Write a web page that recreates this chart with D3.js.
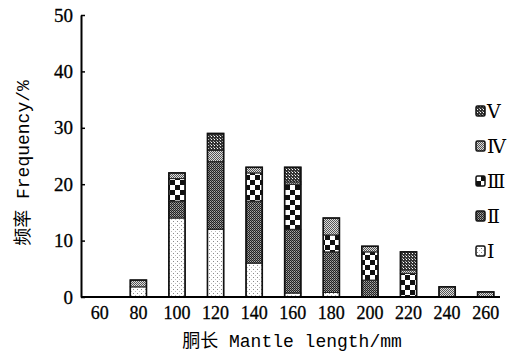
<!DOCTYPE html>
<html>
<head>
<meta charset="utf-8">
<script src="https://cdn.jsdelivr.net/npm/d3@7"></script>
<style>
  body { margin: 0; background: #fff; }
</style>
</head>
<body>
<div id="chart"></div>
<script>
// mantle length classes (mm)
const categories = ["60", "80", "100", "120", "140", "160", "180", "200", "220", "240", "260"];
// frequency (%) per maturity stage
const stageI   = [0, 1.8, 14, 12, 6, 0.7, 0.8, 0, 0, 0, 0];
const stageII  = [0, 0, 3, 12, 11, 11.3, 7.2, 3, 0, 0, 0];
const stageIII = [0, 0, 4, 0, 5, 8, 3, 5, 4.2, 0, 0];
const stageIV  = [0, 1.2, 1, 2, 1, 0.4, 3, 1, 0.6, 1.8, 0.9];
const stageV   = [0, 0, 0, 3, 0, 2.6, 0, 0, 3.2, 0, 0];
const stageNames = ["Ⅰ", "Ⅱ", "Ⅲ", "Ⅳ", "Ⅴ"];
const yTicks = [0, 10, 20, 30, 40, 50];

const width = 508, height = 358;

const svg = d3.select("#chart")
    .append("svg")
    .attr("width", width)
    .attr("height", height);

// fill patterns, one per stage
const defs = svg.append("defs");

function addPattern(id, size, bg, draw) {
    const p = defs.append("pattern")
        .attr("id", id)
        .attr("patternUnits", "userSpaceOnUse")
        .attr("width", size)
        .attr("height", size);
    p.append("rect").attr("width", size).attr("height", size).attr("fill", bg);
    draw(p);
}

// I: sparse dots
addPattern("pI", 4, "#fff", p => {
    p.append("rect").attr("x", 1).attr("y", 1).attr("width", 1).attr("height", 1).attr("fill", "#888");
    p.append("rect").attr("x", 3).attr("y", 3).attr("width", 1).attr("height", 1).attr("fill", "#bbb");
});
// II: dense dark checker
addPattern("pII", 2, "#aaa", p => {
    p.append("rect").attr("x", 0).attr("y", 0).attr("width", 1).attr("height", 1).attr("fill", "#222");
    p.append("rect").attr("x", 1).attr("y", 1).attr("width", 1).attr("height", 1).attr("fill", "#222");
    p.append("rect").attr("x", 1).attr("y", 0).attr("width", 1).attr("height", 1).attr("fill", "#777");
});
// III: big checkerboard
addPattern("pIII", 10, "#fff", p => {
    p.append("rect").attr("x", 0).attr("y", 0).attr("width", 5).attr("height", 5).attr("fill", "#111");
    p.append("rect").attr("x", 5).attr("y", 5).attr("width", 5).attr("height", 5).attr("fill", "#111");
});
// IV: lighter fine checker
addPattern("pIV", 2, "#ddd", p => {
    p.append("rect").attr("x", 0).attr("y", 0).attr("width", 1).attr("height", 1).attr("fill", "#555");
    p.append("rect").attr("x", 1).attr("y", 1).attr("width", 1).attr("height", 1).attr("fill", "#555");
});
// V: dark with white holes
addPattern("pV", 3, "#333", p => {
    p.append("rect").attr("x", 1).attr("y", 1).attr("width", 1).attr("height", 1).attr("fill", "#fff");
    p.append("rect").attr("x", 0).attr("y", 0).attr("width", 1).attr("height", 1).attr("fill", "#aaa");
});

const fills = ["url(#pI)", "url(#pII)", "url(#pIII)", "url(#pIV)", "url(#pV)"];

// table for the stack layout
const series = [stageI, stageII, stageIII, stageIV, stageV];
const table = categories.map((c, i) => {
    const row = { cat: c };
    stageNames.forEach((s, k) => { row[s] = series[k][i]; });
    return row;
});

const stacked = d3.stack().keys(stageNames)(table);

const x = d3.scaleBand()
    .domain(categories)
    .range([80.5, 505])
    .paddingInner(0.58)
    .paddingOuter(0.29);

const y = d3.scaleLinear()
    .domain([0, 50])
    .range([297, 15]);

const x0 = 81;

// bars
const layers = svg.selectAll(".layer")
    .data(stacked)
    .enter()
    .append("g")
    .attr("class", "layer")
    .attr("fill", (d, i) => fills[i]);

layers.selectAll("rect")
    .data(d => d.filter(s => s[1] - s[0] > 0))
    .enter()
    .append("rect")
    .attr("x", d => x(d.data.cat))
    .attr("width", x.bandwidth())
    .attr("y", d => y(d[1]))
    .attr("height", d => y(d[0]) - y(d[1]))
    .attr("stroke", "#222")
    .attr("stroke-width", 1);

// outer outline of each bar
const totals = categories.map((c, i) => d3.sum(series, s => s[i]));
svg.selectAll(".outline")
    .data(totals.map((t, i) => ({ cat: categories[i], t })).filter(d => d.t > 0))
    .enter()
    .append("rect")
    .attr("class", "outline")
    .attr("x", d => x(d.cat))
    .attr("width", x.bandwidth())
    .attr("y", d => y(d.t))
    .attr("height", d => y(0) - y(d.t))
    .attr("fill", "none")
    .attr("stroke", "#111")
    .attr("stroke-width", 1.6);

// y axis
const yAxis = svg.append("g")
    .attr("transform", "translate(" + x0 + ",0)")
    .call(d3.axisLeft(y).tickValues(yTicks).tickSizeInner(-4).tickSizeOuter(0).tickPadding(8));
yAxis.select(".domain").attr("stroke", "#000").attr("stroke-width", 2);
yAxis.selectAll(".tick line").attr("stroke", "#000").attr("stroke-width", 1.5);
yAxis.selectAll("text")
    .style("font-family", "'Liberation Serif', serif")
    .style("font-size", "19px")
    .attr("fill", "#000")
    .attr("stroke", "#000")
    .attr("stroke-width", 0.3);

// x axis
const xAxis = svg.append("g")
    .attr("transform", "translate(0," + y(0) + ")")
    .call(d3.axisBottom(x).tickSize(0).tickPadding(9));
xAxis.select(".domain").attr("d", "M" + x0 + ",0H500").attr("stroke", "#000").attr("stroke-width", 2);
xAxis.selectAll("text")
    .style("font-family", "'Liberation Serif', serif")
    .style("font-size", "18px")
    .attr("fill", "#000")
    .attr("stroke", "#000")
    .attr("stroke-width", 0.3);

// axis titles
svg.append("text")
    .attr("x", 292)
    .attr("y", 347)
    .attr("text-anchor", "middle")
    .style("font-size", "18px")
    .attr("fill", "#000")
    .html("<tspan style=\"font-family:'Noto Sans CJK SC'\">胴长</tspan><tspan style=\"font-family:'Liberation Mono'\"> Mantle length/mm</tspan>");

svg.append("text")
    .attr("transform", "translate(29,163) rotate(-90)")
    .attr("text-anchor", "middle")
    .style("font-size", "18px")
    .attr("fill", "#000")
    .html("<tspan style=\"font-family:'Noto Sans CJK SC'\">频率</tspan><tspan style=\"font-family:'Liberation Mono'\"> Frequency/%</tspan>");

// legend, top stage first
const legendData = stageNames.map((s, i) => ({ name: s, fill: fills[i] })).reverse();
const legend = svg.selectAll(".legend")
    .data(legendData)
    .enter()
    .append("g")
    .attr("class", "legend")
    .attr("transform", (d, i) => "translate(476," + (111 + i * 35) + ")");

legend.append("rect")
    .attr("x", 0)
    .attr("y", -5)
    .attr("width", 9)
    .attr("height", 10)
    .attr("rx", 1.5)
    .attr("fill", d => d.fill)
    .attr("stroke", "#111")
    .attr("stroke-width", 1.5);

legend.append("text")
    .attr("x", 11)
    .attr("y", 7)
    .style("font-family", "'DejaVu Serif', 'Noto Sans CJK SC', serif")
    .style("font-size", "19px")
    .attr("fill", "#000")
    .text(d => d.name);
</script>
</body>
</html>
